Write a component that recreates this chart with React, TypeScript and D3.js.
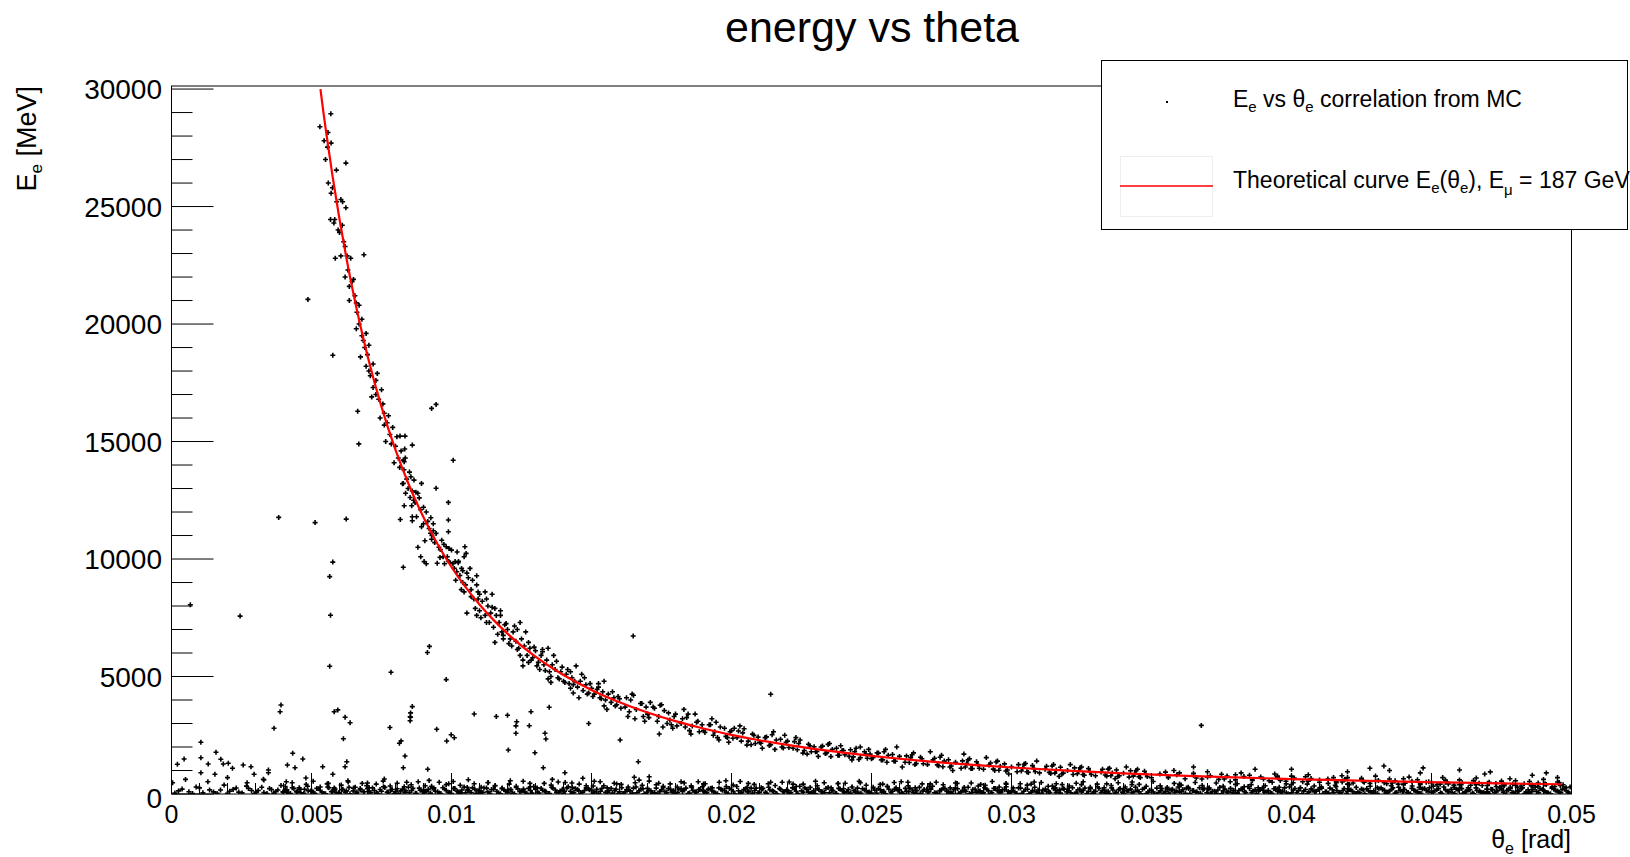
import React from "react";
import * as d3 from "d3";

const FONT = "'Liberation Sans', Arial, Helvetica, sans-serif";

// ---- axis ticks ----
const xTickValues = [0, 0.005, 0.01, 0.015, 0.02, 0.025, 0.03, 0.035, 0.04, 0.045, 0.05];
const xTickLabels = ["0", "0.005", "0.01", "0.015", "0.02", "0.025", "0.03", "0.035", "0.04", "0.045", "0.05"];
const yTickValues = [0, 5000, 10000, 15000, 20000, 25000, 30000];
const yTickLabels = ["0", "5000", "10000", "15000", "20000", "25000", "30000"];
const xDomain = [0, 0.05];
const yDomain = [0, 30130];

// ---- theoretical curve: [theta (mrad), E (MeV)] ----
const theoryCurve: [number, number][] = [
  [5.32, 30000], [5.4, 29246], [5.5, 28361], [5.75, 26307], [6.0, 24459], [6.25, 22788], [6.5, 21276],
  [6.75, 19903], [7.0, 18655], [7.5, 16475], [8.0, 14645], [8.5, 13097], [9.0, 11776], [9.5, 10642],
  [10, 9661], [11, 8061], [12, 6823], [13, 5847], [14, 5065], [15, 4428], [16, 3904], [17, 3467],
  [18, 3099], [19, 2786], [20, 2519], [21, 2287], [22, 2087], [23, 1911], [24, 1757], [25, 1620],
  [26, 1499], [27, 1391], [28, 1294], [29, 1207], [30, 1128], [32, 992], [34, 880], [36, 785],
  [38, 705], [40, 636], [42, 577], [44, 526], [46, 482], [48, 442], [49.65, 414],
];

// ---- MC points near the curve: [theta (mrad), E (MeV)] ----
const mcNearCurve: [number, number][] = [
  [5.3, 28400], [5.45, 27800], [5.57, 27530], [5.69, 28950], [5.59, 28150], [5.7, 27700], [6.23, 26850],
  [5.89, 26550], [5.7, 25570], [6.05, 25300], [6.11, 25200], [6.23, 24950], [5.68, 24450], [5.83, 24450],
  [5.8, 24300], [6.0, 23900], [6.15, 23500], [6.05, 22900], [6.27, 22900], [6.4, 22800], [5.85, 22800],
  [6.87, 22950], [6.2, 22000], [6.45, 21800], [6.55, 21200], [6.35, 21000], [6.62, 20500], [6.7, 20000],
  [6.8, 19500], [6.6, 19800], [6.9, 19000], [7.0, 18700], [6.75, 18600], [6.95, 18200], [7.05, 18000], [5.76, 18670],
  [7.1, 17800], [7.2, 17300], [7.3, 17600], [7.15, 16900], [7.4, 16800], [7.5, 17200], [7.6, 16200], [7.45, 16000],
  [7.7, 15800], [7.8, 15300], [7.65, 15000], [7.9, 15600], [8.0, 14800], [8.1, 14300], [7.95, 14100], [8.2, 14600],
  [8.16, 15230], [8.34, 15230], [8.6, 14850], [8.33, 14680], [8.28, 14210], [8.31, 14140],
  [8.3, 13800], [8.4, 13400], [8.25, 13200], [8.5, 13700], [8.66, 13360], [8.93, 13220], [8.28, 13220], [9.45, 13010],
  [8.36, 12800], [8.73, 12840], [8.52, 12620], [9.89, 12410], [8.31, 12270], [8.58, 12270], [8.6, 11800], [8.6, 11630],
  [9.26, 11760], [9.89, 11660], [8.93, 11375], [9.89, 11160], [9.35, 11200], [9.45, 11090], [9.05, 10780], [9.29, 10840],
  [9.73, 10620], [9.81, 10520], [9.91, 10450], [10.0, 10380], [10.48, 10520], [10.52, 10240], [9.02, 9890], [9.49, 9820],
  [9.59, 10070], [9.95, 9840], [10.13, 9890], [10.24, 9840], [10.19, 9460], [10.36, 9600], [10.66, 9600], [10.9, 9290],
  [8.6, 12900], [8.7, 12400], [8.8, 12800], [8.9, 12100], [8.75, 11800], [9.0, 11500], [9.1, 12000], [9.2, 11300],
  [9.3, 11000], [9.4, 10700], [9.6, 10400], [9.7, 10100], [9.75, 9800], [9.9, 9900], [10.1, 9600], [10.3, 9300],
  [10.15, 9100], [10.4, 9500], [10.5, 8900], [10.6, 9200], [10.45, 8600], [8.9, 10100], [9.1, 9800], [8.8, 10500],
  [10.7, 8700], [10.8, 8300], [10.9, 8900], [11.0, 7800], [11.1, 8200], [11.2, 7600], [11.3, 8000], [11.25, 7300],
  [11.4, 7700], [11.5, 7100], [11.6, 7600], [11.55, 7900], [11.7, 7300], [11.8, 6900], [11.9, 7200], [11.85, 6600],
  [12.0, 7000], [12.1, 6600], [12.2, 6900], [12.15, 6300], [12.3, 6500], [12.4, 6200], [12.5, 6600], [12.45, 5900],
  [12.6, 6300], [12.7, 5900], [12.8, 6200], [12.75, 5600], [12.9, 5800], [13.0, 6100], [13.1, 5600], [13.2, 5900],
  [13.15, 5300], [13.3, 5500], [13.4, 5700], [13.5, 5200], [13.6, 5500], [13.55, 5000], [13.7, 5300], [13.8, 4950],
  [13.9, 5200], [14.0, 4800], [14.1, 5100], [14.2, 4700], [14.3, 4950], [14.25, 4500], [14.4, 4800], [14.5, 4550],
  [14.6, 4800], [14.7, 4400], [14.8, 4650], [14.9, 4300], [15.0, 4500], [15.1, 4250], [15.2, 4450], [15.3, 4100],
  [15.4, 4350], [15.5, 4000], [15.6, 4250], [15.7, 3900], [15.8, 4100], [15.9, 3800], [16.0, 4050], [11.0, 8500],
  [11.45, 7950], [12.35, 7000], [13.25, 6150], [14.15, 5300], [15.25, 4700], [10.9, 7600], [11.65, 6800], [12.55, 5700],
  [13.45, 4900], [14.35, 4300], [15.45, 3750], [11.2, 8600], [11.75, 7800], [12.65, 6900], [13.65, 5900], [14.65, 5100],
  [16.2, 3700], [16.4, 4000], [16.6, 3600], [16.8, 3850], [17.0, 3400], [17.2, 3700], [17.4, 3300], [17.6, 3550],
  [17.8, 3150], [18.0, 3400], [18.2, 3000], [18.4, 3250], [18.6, 2900], [18.8, 3100], [19.0, 2700], [19.2, 2950],
  [19.4, 2650], [19.6, 2850], [19.8, 2450], [20.0, 2700], [20.2, 2400], [20.4, 2600], [20.6, 2250], [20.8, 2500],
  [21.0, 2200], [21.2, 2400], [21.4, 2100], [21.6, 2300], [21.8, 2000], [22.0, 2250], [22.2, 1950], [22.4, 2150],
  [22.6, 1850], [22.8, 2050], [23.0, 1800], [23.2, 2000], [23.4, 1750], [23.6, 1900], [23.8, 1650], [24.0, 1850],
  [24.2, 1600], [24.4, 1800], [24.6, 1550], [24.8, 1700], [25.0, 1500], [16.3, 3300], [17.1, 3900], [17.9, 2800],
  [18.7, 3400], [19.5, 2400], [20.3, 2900], [21.1, 1950], [21.9, 2500], [22.7, 1700], [23.5, 2150], [24.3, 1450],
  [24.9, 1900], [16.9, 3100], [18.3, 3600], [19.9, 2200], [21.5, 2650], [23.1, 1600], [24.6, 2000], [16.5, 4200],
  [17.5, 3800], [18.5, 2700], [19.3, 3200], [20.7, 2100], [22.3, 2400], [23.9, 2050], [17.7, 3000], [20.1, 2800],
  [25.2, 1750], [25.4, 1450], [25.6, 1650], [25.8, 1400], [26.0, 1600], [26.2, 1350], [26.4, 1550], [26.6, 1300],
  [26.8, 1500], [27.0, 1250], [27.2, 1450], [27.4, 1200], [27.6, 1400], [27.8, 1150], [28.0, 1350], [28.2, 1100],
  [28.4, 1300], [28.6, 1080], [28.8, 1250], [29.0, 1050], [29.2, 1230], [29.4, 1000], [29.6, 1180], [29.8, 980],
  [30.0, 1150], [30.2, 950], [30.4, 1120], [30.6, 920], [30.8, 1080], [31.0, 900], [31.2, 1050], [31.4, 870],
  [31.6, 1020], [31.8, 850], [32.0, 1000], [32.2, 830], [32.4, 980], [32.6, 800], [32.8, 950], [33.0, 780],
  [33.2, 930], [33.4, 760], [33.6, 900], [33.8, 740], [34.0, 880], [34.2, 720], [34.4, 860], [34.6, 700],
  [34.8, 840], [35.0, 690], [25.5, 1900], [26.5, 1750], [27.5, 1650], [28.5, 1500], [29.5, 1400], [30.5, 1300],
  [31.5, 1250], [32.5, 1150], [33.5, 1100], [34.5, 1050], [26.1, 1150], [27.9, 1000], [29.9, 850], [31.7, 750],
  [33.7, 650], [30.9, 1400], [28.3, 1700], [25.9, 2000], [27.1, 1800], [29.1, 1550], [32.1, 1250], [34.1, 1150],
  [35.3, 850], [35.6, 700], [35.9, 820], [36.2, 650], [36.5, 800], [36.8, 640], [37.1, 780], [37.4, 620],
  [37.7, 760], [38.0, 600], [38.3, 740], [38.6, 580], [38.9, 720], [39.2, 560], [39.5, 700], [39.8, 540],
  [40.1, 680], [40.4, 520], [40.7, 660], [41.0, 500], [41.3, 640], [41.6, 480], [41.9, 620], [42.2, 470],
  [42.5, 600], [42.8, 450], [43.1, 580], [43.4, 440], [43.7, 560], [44.0, 420], [44.3, 540], [44.6, 410],
  [44.9, 520], [45.2, 400], [45.5, 500], [45.8, 380], [46.1, 480], [46.4, 370], [46.7, 460], [47.0, 360],
  [47.3, 450], [47.6, 350], [47.9, 430], [48.2, 340], [48.5, 420], [48.8, 330], [49.1, 400], [49.4, 320],
  [49.7, 390], [49.95, 300], [35.8, 1000], [37.0, 950], [38.2, 900], [39.4, 850], [40.6, 820], [41.8, 780],
  [43.0, 760], [44.2, 720], [45.4, 700], [46.6, 680], [47.8, 650], [49.0, 620], [40.0, 1050], [42.0, 950],
  [44.6, 900], [46.9, 850], [48.6, 800], [36.5, 1150], [38.7, 1050], [43.5, 1000], [46.0, 1020], [49.5, 700],
  [43.3, 1190], [42.8, 1100], [44.7, 1110], [49.1, 900], [47.1, 940],
];

// ---- more MC points along the curve (second layer): [theta (mrad), E (MeV)] ----
const mcNearCurve2: [number, number][] = [
  [5.5, 27000], [5.6, 26000], [5.75, 25800], [5.9, 25200], [5.95, 24000], [6.1, 24200], [6.2, 23300], [6.3, 22300],
  [6.35, 21600], [6.5, 21900], [6.6, 20900], [6.7, 20800], [6.8, 20200], [6.85, 19300], [6.95, 19600], [7.05, 19100],
  [7.2, 18300], [7.3, 17000], [7.35, 17900], [7.55, 16600], [7.6, 15700], [7.75, 16100], [7.85, 14900], [8.05, 15200],
  [8.15, 13900], [8.35, 14300], [8.45, 13000], [8.55, 13500], [8.65, 12500], [8.85, 12600], [9.0, 12200], [9.15, 11600],
  [9.25, 11100], [9.35, 11500], [9.55, 10500], [9.65, 10800], [9.85, 10100], [10.05, 9800], [10.2, 10300], [10.4, 9000],
  [10.55, 9400], [10.7, 8400], [10.95, 8300],
  [10.25, 9900], [10.35, 8700], [10.75, 9100], [10.85, 7900], [11.25, 8300], [11.35, 7300], [11.75, 7600], [11.85, 6750],
  [12.25, 7150], [12.35, 6150], [12.75, 6450], [12.85, 5700], [13.25, 6050], [13.35, 5250], [13.75, 5650], [13.85, 4900],
  [14.25, 5200], [14.35, 4650], [14.75, 4950], [14.85, 4250], [15.25, 4550], [15.35, 4050], [15.75, 4350], [15.85, 3750],
  [16.25, 4100], [16.35, 3500], [16.75, 3850], [16.85, 3300], [17.25, 3650], [17.35, 3100], [17.75, 3450], [17.85, 2950],
  [18.25, 3200], [18.35, 2850], [18.75, 3050], [18.85, 2650], [19.25, 2950], [19.35, 2500], [19.75, 2800], [19.85, 2400],
  [20.25, 2680], [20.35, 2250], [20.75, 2550], [20.85, 2150], [21.25, 2430], [21.35, 2060], [21.75, 2330], [21.85, 1960],
  [22.25, 2230], [22.35, 1880], [22.75, 2120], [22.85, 1800], [23.25, 2040], [23.35, 1720], [23.75, 1950], [23.85, 1650],
  [24.25, 1880], [24.35, 1580], [24.75, 1800], [24.85, 1520], [25.25, 1740], [25.35, 1450], [25.75, 1680], [25.85, 1390],
  [26.25, 1620], [26.35, 1340], [26.75, 1560], [26.85, 1290], [27.25, 1520], [27.35, 1240], [27.75, 1460], [27.85, 1190],
  [28.25, 1410], [28.35, 1150], [28.75, 1370], [28.85, 1100], [29.25, 1320], [29.35, 1060], [29.75, 1280], [29.85, 1020],
  [30.25, 1250], [30.35, 980], [30.75, 1210], [30.85, 950], [31.25, 1180], [31.35, 920], [31.75, 1140], [31.85, 890],
  [32.25, 1110], [32.35, 860], [32.75, 1080], [32.85, 830], [33.25, 1050], [33.35, 810], [33.75, 1020], [33.85, 780],
  [34.25, 990], [34.35, 760], [34.75, 970], [34.85, 740], [35.5, 930], [35.6, 720], [36.5, 880], [36.6, 680],
  [37.5, 840], [37.6, 640], [38.5, 800], [38.6, 610], [39.5, 760], [39.6, 580], [40.5, 730], [40.6, 550],
  [41.5, 700], [41.6, 520], [42.5, 670], [42.6, 500], [43.5, 640], [43.6, 470], [44.5, 610], [44.6, 450],
  [45.5, 590], [45.6, 430], [46.5, 570], [46.6, 410], [47.5, 550], [47.6, 390], [48.5, 530], [48.6, 380],
  [49.5, 510], [49.6, 360], [36.0, 900], [37.0, 720], [38.0, 820], [39.0, 640], [40.0, 760], [41.0, 600],
  [42.0, 700], [43.0, 540], [44.0, 650], [45.0, 480], [46.0, 600], [47.0, 460], [48.0, 560], [49.0, 430],
];

// ---- wider spread around the curve (third layer): [theta (mrad), E (MeV)] ----
const mcNearCurve3: [number, number][] = [
  [10.45, 10100], [10.55, 7700], [11.45, 8500], [11.55, 6450], [12.45, 7300], [12.55, 5450], [13.45, 6200], [13.55, 4750],
  [14.45, 5450], [14.55, 4100], [15.45, 4800], [15.55, 3600], [16.45, 4250], [16.55, 3200], [17.45, 3780], [17.55, 2850],
  [18.45, 3400], [18.55, 2550], [19.45, 3050], [19.55, 2300], [20.45, 2780], [20.55, 2080], [21.45, 2520], [21.55, 1900],
  [22.45, 2300], [22.55, 1740], [23.45, 2110], [23.55, 1590], [24.45, 1950], [24.55, 1470], [25.45, 1800], [25.55, 1350],
  [26.45, 1670], [26.55, 1250], [27.45, 1560], [27.55, 1160], [28.45, 1450], [28.55, 1080], [29.45, 1360], [29.55, 1010],
  [30.45, 1270], [30.55, 950], [31.45, 1190], [31.55, 890], [32.45, 1120], [32.55, 830], [33.45, 1060], [33.55, 780],
  [34.45, 1000], [34.55, 740],
  [10.95, 8600], [11.05, 7500], [11.95, 7250], [12.05, 6400], [12.95, 6250], [13.05, 5450], [13.95, 5400], [14.05, 4750],
  [14.95, 4700], [15.05, 4150], [15.95, 4150], [16.05, 3650], [16.95, 3700], [17.05, 3250], [17.95, 3300], [18.05, 2900],
  [18.95, 2950], [19.05, 2620], [19.95, 2650], [20.05, 2370], [20.95, 2420], [21.05, 2160], [21.95, 2200], [22.05, 1980],
  [22.95, 2010], [23.05, 1810], [23.95, 1840], [24.05, 1670], [24.95, 1700], [25.05, 1540],
];

// ---- MC points in the low-energy band: [theta (mrad), E (MeV)] ----
const mcLowBand: [number, number][] = [
  [0.12, 40], [0.38, 210], [0.62, 95], [0.88, 300],
  [1.12, 55], [1.36, 175], [1.63, 25], [1.88, 380],
  [2.08, 120], [2.31, 255], [2.52, 45], [2.68, 335], [2.86, 150],
  [3.04, 80], [3.22, 290], [3.41, 20], [3.57, 190], [3.73, 110], [3.91, 360],
  [4.04, 140], [4.18, 40], [4.31, 270], [4.46, 90], [4.59, 200], [4.73, 30], [4.86, 330], [4.97, 120],
  [5.06, 60], [5.19, 240], [5.31, 150], [5.44, 20], [5.58, 300], [5.71, 100], [5.84, 210], [5.96, 50],
  [6.08, 180], [6.21, 70], [6.34, 280], [6.49, 130], [6.61, 30], [6.74, 230], [6.86, 90], [6.97, 350],
  [7.05, 110], [7.18, 260], [7.32, 40], [7.45, 190], [7.57, 310], [7.7, 80], [7.83, 170], [7.95, 20],
  [8.06, 220], [8.19, 130], [8.33, 60], [8.46, 290], [8.58, 150], [8.71, 30], [8.85, 250], [8.96, 100],
  [9.04, 50], [9.17, 200], [9.29, 330], [9.42, 120], [9.56, 40], [9.69, 270], [9.81, 160], [9.94, 70],
  [10.07, 240], [10.2, 110], [10.32, 30], [10.45, 300], [10.58, 180], [10.7, 60], [10.83, 210], [10.95, 140],
  [11.03, 20], [11.16, 260], [11.3, 90], [11.43, 190], [11.55, 340], [11.68, 50], [11.8, 230], [11.93, 120],
  [12.05, 170], [12.18, 40], [12.31, 280], [12.44, 100], [12.57, 210], [12.69, 30], [12.82, 150], [12.94, 320],
  [13.07, 80], [13.2, 240], [13.33, 130], [13.46, 20], [13.58, 290], [13.71, 170], [13.84, 60], [13.96, 200],
  [14.04, 110], [14.17, 310], [14.3, 40], [14.43, 220], [14.55, 140], [14.68, 70], [14.81, 260], [14.93, 180],
  [15.06, 30], [15.19, 200], [15.32, 120], [15.44, 350], [15.57, 60], [15.7, 240], [15.83, 150], [15.95, 20],
  [16.08, 270], [16.21, 90], [16.33, 190], [16.46, 40], [16.59, 300], [16.71, 130], [16.84, 220], [16.97, 70],
  [17.05, 160], [17.18, 30], [17.31, 250], [17.44, 110], [17.56, 330], [17.69, 60], [17.82, 200], [17.94, 140],
  [18.07, 50], [18.2, 230], [18.32, 170], [18.45, 20], [18.58, 280], [18.7, 100], [18.83, 190], [18.96, 310],
  [19.04, 80], [19.17, 210], [19.3, 130], [19.43, 40], [19.55, 260], [19.68, 160], [19.81, 60], [19.93, 240],
  [20.06, 120], [20.19, 320], [20.32, 30], [20.44, 190], [20.57, 90], [20.7, 250], [20.83, 150], [20.95, 50],
  [21.08, 200], [21.21, 70], [21.33, 290], [21.46, 140], [21.59, 20], [21.71, 230], [21.84, 110], [21.97, 180],
  [22.05, 40], [22.18, 260], [22.31, 120], [22.44, 330], [22.56, 80], [22.69, 200], [22.82, 30], [22.94, 150],
  [23.07, 230], [23.2, 100], [23.32, 60], [23.45, 280], [23.58, 170], [23.7, 20], [23.83, 240], [23.96, 130],
  [24.04, 70], [24.17, 190], [24.3, 300], [24.43, 110], [24.55, 40], [24.68, 220], [24.81, 150], [24.93, 90],
  [25.06, 260], [25.19, 30], [25.32, 180], [25.44, 120], [25.57, 310], [25.7, 60], [25.83, 210], [25.95, 140],
  [26.08, 50], [26.21, 240], [26.33, 100], [26.46, 170], [26.59, 20], [26.71, 280], [26.84, 130], [26.97, 200],
  [27.05, 90], [27.18, 330], [27.31, 40], [27.44, 150], [27.56, 250], [27.69, 110], [27.82, 30], [27.94, 190],
  [28.07, 220], [28.2, 80], [28.32, 160], [28.45, 290], [28.58, 50], [28.7, 200], [28.83, 120], [28.96, 20],
  [29.04, 270], [29.17, 140], [29.3, 60], [29.43, 230], [29.55, 100], [29.68, 180], [29.81, 310], [29.93, 40],
  [30.06, 150], [30.19, 20], [30.32, 250], [30.44, 120], [30.57, 200], [30.7, 70], [30.83, 290], [30.95, 170],
  [31.08, 30], [31.21, 210], [31.33, 110], [31.46, 340], [31.59, 60], [31.71, 180], [31.84, 240], [31.97, 90],
  [32.05, 130], [32.18, 270], [32.31, 40], [32.44, 200], [32.56, 150], [32.69, 20], [32.82, 230], [32.94, 100],
  [33.07, 310], [33.2, 60], [33.32, 170], [33.45, 120], [33.58, 260], [33.7, 30], [33.83, 190], [33.96, 80],
  [34.04, 220], [34.17, 140], [34.3, 50], [34.43, 290], [34.55, 100], [34.68, 200], [34.81, 20], [34.93, 160],
  [35.06, 90], [35.19, 250], [35.32, 130], [35.44, 40], [35.57, 210], [35.7, 170], [35.83, 60], [35.95, 300],
  [36.08, 110], [36.21, 30], [36.33, 230], [36.46, 150], [36.59, 80], [36.71, 270], [36.84, 190], [36.97, 50],
  [37.05, 200], [37.18, 120], [37.31, 20], [37.44, 280], [37.56, 140], [37.69, 70], [37.82, 240], [37.94, 160],
  [38.07, 40], [38.2, 210], [38.32, 100], [38.45, 320], [38.58, 60], [38.7, 180], [38.83, 130], [38.96, 260],
  [39.04, 80], [39.17, 150], [39.3, 30], [39.43, 240], [39.55, 190], [39.68, 110], [39.81, 50], [39.93, 300],
  [40.06, 170], [40.19, 60], [40.32, 270], [40.44, 130], [40.57, 20], [40.7, 220], [40.83, 90], [40.95, 190],
  [41.08, 250], [41.21, 100], [41.33, 40], [41.46, 180], [41.59, 310], [41.71, 70], [41.84, 150], [41.97, 30],
  [42.05, 210], [42.18, 120], [42.31, 280], [42.44, 50], [42.56, 170], [42.69, 230], [42.82, 90], [42.94, 140],
  [43.07, 20], [43.2, 260], [43.32, 160], [43.45, 80], [43.58, 200], [43.7, 40], [43.83, 290], [43.96, 110],
  [44.04, 190], [44.17, 60], [44.3, 240], [44.43, 130], [44.55, 30], [44.68, 210], [44.81, 150], [44.93, 270],
  [45.06, 90], [45.19, 180], [45.32, 50], [45.44, 300], [45.57, 120], [45.7, 200], [45.83, 20], [45.95, 160],
  [46.08, 230], [46.21, 100], [46.33, 170], [46.46, 40], [46.59, 260], [46.71, 140], [46.84, 70], [46.97, 210],
  [47.05, 30], [47.18, 190], [47.31, 120], [47.44, 280], [47.56, 80], [47.69, 160], [47.82, 240], [47.94, 50],
  [48.07, 140], [48.2, 220], [48.32, 20], [48.45, 180], [48.58, 100], [48.7, 290], [48.83, 60], [48.96, 200],
  [49.04, 120], [49.17, 40], [49.3, 250], [49.43, 160], [49.55, 80], [49.68, 210], [49.81, 130], [49.93, 30],
];

// ---- second layer of the low-energy band: [theta (mrad), E (MeV)] ----
const mcLowBand2: [number, number][] = [
  [0.25, 130], [0.75, 20], [1.0, 260], [1.5, 90], [1.75, 170],
  [2.0, 30], [2.2, 190], [2.4, 80], [2.75, 240], [2.95, 10],
  [3.1, 150], [3.3, 60], [3.5, 230], [3.65, 40], [3.8, 170], [3.98, 90],
  [4.0, 70], [4.12, 180], [4.25, 20], [4.37, 240], [4.5, 110], [4.62, 50], [4.75, 200], [4.88, 140],
  [5.0, 160], [5.12, 30], [5.25, 220], [5.37, 90], [5.5, 10], [5.62, 270], [5.75, 120], [5.88, 60],
  [6.0, 40], [6.12, 200], [6.25, 130], [6.37, 10], [6.5, 250], [6.62, 80], [6.75, 170], [6.88, 100],
  [7.0, 230], [7.12, 60], [7.25, 150], [7.37, 20], [7.5, 120], [7.62, 280], [7.75, 50], [7.88, 190],
  [8.0, 90], [8.12, 10], [8.25, 210], [8.37, 140], [8.5, 60], [8.62, 240], [8.75, 20], [8.88, 160],
  [9.0, 180], [9.12, 120], [9.25, 40], [9.37, 260], [9.5, 100], [9.62, 20], [9.75, 210], [9.88, 70],
  [10.0, 20], [10.12, 230], [10.25, 90], [10.37, 170], [10.5, 50], [10.62, 140], [10.75, 260], [10.88, 30],
  [11.0, 140], [11.12, 70], [11.25, 250], [11.37, 30], [11.5, 200], [11.62, 110], [11.75, 10], [11.88, 180],
  [12.0, 60], [12.12, 190], [12.25, 10], [12.37, 220], [12.5, 130], [12.62, 80], [12.75, 240], [12.88, 40],
  [13.0, 210], [13.12, 40], [13.25, 160], [13.37, 100], [13.5, 20], [13.62, 250], [13.75, 70], [13.88, 130],
  [14.0, 30], [14.12, 260], [14.25, 120], [14.37, 60], [14.5, 190], [14.62, 10], [14.75, 150], [14.88, 220],
  [15.0, 170], [15.12, 90], [15.25, 20], [15.37, 240], [15.5, 70], [15.62, 140], [15.75, 40], [15.88, 200],
  [16.0, 100], [16.12, 20], [16.25, 180], [16.37, 130], [16.5, 250], [16.62, 50], [16.75, 210], [16.88, 10],
  [17.0, 240], [17.12, 140], [17.25, 60], [17.37, 10], [17.5, 170], [17.62, 100], [17.75, 230], [17.88, 80],
  [18.0, 20], [18.12, 200], [18.25, 110], [18.37, 250], [18.5, 40], [18.62, 150], [18.75, 70], [18.88, 180],
  [19.0, 130], [19.12, 50], [19.25, 230], [19.37, 90], [19.5, 10], [19.62, 200], [19.75, 160], [19.88, 30],
  [20.0, 190], [20.12, 10], [20.25, 140], [20.37, 60], [20.5, 220], [20.62, 120], [20.75, 40], [20.88, 250],
  [21.0, 70], [21.12, 240], [21.25, 30], [21.37, 170], [21.5, 110], [21.62, 10], [21.75, 200], [21.88, 90],
  [22.0, 150], [22.12, 60], [22.25, 210], [22.37, 20], [22.5, 130], [22.62, 260], [22.75, 80], [22.88, 40],
  [23.0, 10], [23.12, 180], [23.25, 100], [23.37, 230], [23.5, 50], [23.62, 150], [23.75, 20], [23.88, 210],
  [24.0, 220], [24.12, 90], [24.25, 40], [24.37, 140], [24.5, 250], [24.62, 30], [24.75, 170], [24.88, 60],
  [25.0, 40], [25.12, 160], [25.25, 230], [25.37, 80], [25.5, 10], [25.62, 200], [25.75, 120], [25.88, 270],
  [26.0, 180], [26.12, 20], [26.25, 110], [26.37, 250], [26.5, 60], [26.62, 140], [26.75, 30], [26.88, 190],
  [27.0, 90], [27.12, 210], [27.25, 50], [27.37, 10], [27.5, 170], [27.62, 230], [27.75, 100], [27.88, 40],
  [28.0, 250], [28.12, 30], [28.25, 150], [28.37, 120], [28.5, 20], [28.62, 190], [28.75, 70], [28.88, 130],
  [29.0, 60], [29.12, 200], [29.25, 10], [29.37, 240], [29.5, 140], [29.62, 50], [29.75, 180], [29.88, 110],
  [30.0, 130], [30.12, 80], [30.25, 260], [30.37, 30], [30.5, 200], [30.62, 10], [30.75, 150], [30.88, 90],
  [31.0, 20], [31.12, 170], [31.25, 110], [31.37, 60], [31.5, 230], [31.62, 140], [31.75, 40], [31.88, 210],
  [32.0, 200], [32.12, 50], [32.25, 10], [32.37, 180], [32.5, 90], [32.62, 250], [32.75, 120], [32.88, 30],
  [33.0, 110], [33.12, 240], [33.25, 150], [33.37, 40], [33.5, 20], [33.62, 170], [33.75, 60], [33.88, 230],
  [34.0, 30], [34.12, 130], [34.25, 210], [34.37, 90], [34.5, 160], [34.62, 10], [34.75, 250], [34.88, 70],
  [35.0, 170], [35.12, 10], [35.25, 60], [35.37, 230], [35.5, 120], [35.62, 40], [35.75, 200], [35.88, 140],
  [36.0, 80], [36.12, 190], [36.25, 250], [36.37, 20], [36.5, 150], [36.62, 100], [36.75, 30], [36.88, 220],
  [37.0, 240], [37.12, 40], [37.25, 120], [37.37, 170], [37.5, 10], [37.62, 210], [37.75, 90], [37.88, 50],
  [38.0, 10], [38.12, 150], [38.25, 200], [38.37, 60], [38.5, 240], [38.62, 130], [38.75, 20], [38.88, 180],
  [39.0, 160], [39.12, 90], [39.25, 30], [39.37, 220], [39.5, 110], [39.62, 50], [39.75, 260], [39.88, 10],
  [40.0, 50], [40.12, 230], [40.25, 140], [40.37, 10], [40.5, 190], [40.62, 80], [40.75, 170], [40.88, 120],
  [41.0, 200], [41.12, 20], [41.25, 100], [41.37, 250], [41.5, 60], [41.62, 150], [41.75, 40], [41.88, 230],
  [42.0, 120], [42.12, 170], [42.25, 30], [42.37, 90], [42.5, 210], [42.62, 10], [42.75, 130], [42.88, 60],
  [43.0, 30], [43.12, 220], [43.25, 180], [43.37, 40], [43.5, 130], [43.62, 260], [43.75, 70], [43.88, 150],
  [44.0, 190], [44.12, 60], [44.25, 10], [44.37, 160], [44.5, 100], [44.62, 30], [44.75, 240], [44.88, 120],
  [45.0, 70], [45.12, 140], [45.25, 230], [45.37, 20], [45.5, 170], [45.62, 90], [45.75, 50], [45.88, 210],
  [46.0, 250], [46.12, 30], [46.25, 120], [46.37, 190], [46.5, 10], [46.62, 150], [46.75, 80], [46.88, 40],
  [47.0, 100], [47.12, 200], [47.25, 50], [47.37, 140], [47.5, 230], [47.62, 20], [47.75, 170], [47.88, 60],
  [48.0, 20], [48.12, 120], [48.25, 260], [48.37, 80], [48.5, 40], [48.62, 190], [48.75, 110], [48.88, 230],
  [49.0, 160], [49.12, 60], [49.25, 10], [49.37, 200], [49.5, 130], [49.62, 50], [49.75, 240], [49.88, 90],
];

// ---- upper edge of the low-energy band: [theta (mrad), E (MeV)] ----
const mcLowBand3: [number, number][] = [
  [4.06, 320], [4.31, 480], [4.56, 270], [4.81, 410], [5.06, 540], [5.31, 300], [5.56, 430], [5.81, 260],
  [6.06, 380], [6.31, 510], [6.56, 290], [6.81, 450], [7.06, 270], [7.31, 420], [7.56, 550], [7.81, 340],
  [8.06, 460], [8.31, 310], [8.56, 390], [8.81, 520], [9.06, 350], [9.31, 260], [9.56, 500], [9.81, 400],
  [10.06, 530], [10.31, 370], [10.56, 280], [10.81, 440], [11.06, 290], [11.31, 490], [11.56, 360], [11.81, 250],
  [12.06, 420], [12.31, 330], [12.56, 540], [12.81, 300], [13.06, 260], [13.31, 450], [13.56, 380], [13.81, 510],
  [14.06, 490], [14.31, 280], [14.56, 420], [14.81, 350], [15.06, 340], [15.31, 520], [15.56, 260], [15.81, 460],
  [16.06, 410], [16.31, 300], [16.56, 480], [16.81, 370], [17.06, 550], [17.31, 390], [17.56, 270], [17.81, 430],
  [18.06, 300], [18.31, 470], [18.56, 350], [18.81, 520], [19.06, 440], [19.31, 260], [19.56, 500], [19.81, 320],
  [20.06, 380], [20.31, 530], [20.56, 290], [20.81, 410], [21.06, 270], [21.31, 440], [21.56, 360], [21.81, 500],
  [22.06, 510], [22.31, 320], [22.56, 420], [22.81, 280], [23.06, 350], [23.31, 480], [23.56, 260], [23.81, 450],
  [24.06, 460], [24.31, 300], [24.56, 540], [24.81, 370], [25.06, 290], [25.31, 410], [25.56, 330], [25.81, 490],
  [26.06, 520], [26.31, 350], [26.56, 270], [26.81, 430], [27.06, 320], [27.31, 500], [27.56, 390], [27.81, 260],
  [28.06, 450], [28.31, 280], [28.56, 470], [28.81, 340], [29.06, 370], [29.31, 530], [29.56, 300], [29.81, 420],
  [30.06, 260], [30.31, 440], [30.56, 380], [30.81, 510], [31.06, 490], [31.31, 330], [31.56, 270], [31.81, 400],
  [32.06, 340], [32.31, 460], [32.56, 520], [32.81, 290], [33.06, 420], [33.31, 270], [33.56, 360], [33.81, 480],
  [34.06, 300], [34.31, 510], [34.56, 410], [34.81, 330], [35.06, 530], [35.31, 350], [35.56, 280], [35.81, 450],
  [36.06, 380], [36.31, 290], [36.56, 490], [36.81, 360], [37.06, 270], [37.31, 470], [37.56, 330], [37.81, 520],
  [38.06, 440], [38.31, 310], [38.56, 400], [38.81, 270], [39.06, 350], [39.31, 500], [39.56, 290], [39.81, 430],
  [40.06, 480], [40.31, 260], [40.56, 420], [40.81, 340], [41.06, 310], [41.31, 450], [41.56, 370], [41.81, 510],
  [42.06, 400], [42.31, 290], [42.56, 530], [42.81, 330], [43.06, 270], [43.31, 480], [43.56, 350], [43.81, 420],
  [44.06, 460], [44.31, 340], [44.56, 280], [44.81, 500], [45.06, 330], [45.31, 420], [45.56, 510], [45.81, 290],
  [46.06, 390], [46.31, 270], [46.56, 450], [46.81, 360], [47.06, 500], [47.31, 320], [47.56, 380], [47.81, 280],
  [48.06, 290], [48.31, 440], [48.56, 340], [48.81, 470], [49.06, 420], [49.31, 310], [49.56, 490], [49.81, 270],
];

// ---- MC points just above the low band: [theta (mrad), E (MeV)] ----
const mcLowMid: [number, number][] = [
  [0.5, 620], [1.3, 520], [2.0, 700], [2.7, 480], [3.3, 600], [4.1, 520], [4.8, 680], [5.6, 450], [6.3, 560],
  [7.0, 470], [7.6, 640], [8.4, 500], [9.2, 580], [9.9, 440], [10.6, 610], [11.3, 480], [12.1, 560], [12.8, 450],
  [13.6, 620], [14.3, 470], [15.1, 540], [15.9, 430], [16.7, 590], [17.4, 460], [18.2, 520], [19.0, 430],
  [19.8, 560], [20.6, 450], [21.4, 500], [22.2, 420], [23.0, 540], [23.8, 440], [24.6, 480], [25.4, 420],
  [26.3, 500], [27.1, 430], [28.0, 470], [28.9, 410], [29.8, 450], [30.7, 420], [31.6, 440], [32.5, 400],
  [33.4, 430], [34.3, 400], [36.0, 420], [38.0, 410], [40.0, 400], [42.0, 420], [44.0, 390], [46.0, 400], [48.0, 380],
];

// ---- MC stragglers away from the curve: [theta (mrad), E (MeV)] ----
const mcStragglers: [number, number][] = [
  [0.04, 480], [0.21, 1264], [0.45, 1490], [1.05, 2200], [1.05, 1545], [1.05, 906], [1.31, 1276], [1.59, 1774],
  [1.55, 838], [1.76, 1476], [1.85, 1276], [2.03, 1306], [2.18, 1093], [2.56, 1234], [2.84, 1162], [2.95, 838],
  [3.28, 626], [3.46, 1021], [3.46, 906], [3.66, 2796], [3.88, 3502], [3.91, 3787], [4.14, 1234], [4.33, 1732],
  [4.41, 1119], [4.69, 1489], [5.4, 1162], [5.76, 838], [5.81, 3502], [6.14, 2353], [6.2, 1162], [6.26, 1374],
  [6.38, 3034], [8.14, 2157], [8.34, 1617], [8.28, 1119], [8.52, 3289], [8.52, 3119], [9.15, 1051], [9.47, 2753],
  [9.83, 2255], [10.1, 2396], [10.81, 3404], [12.03, 1872], [12.3, 2583], [12.33, 3077], [12.78, 2906], [12.84, 3502],
  [12.98, 1757], [13.28, 1119], [13.34, 2583], [13.37, 2340], [13.49, 3689], [14.05, 906], [14.69, 668], [16.02, 2298],
  [16.67, 1374], [16.53, 711], [17.06, 736], [17.42, 2553], [9.99, 2520], [8.2, 2260], [7.8, 2830],
  [0.67, 8050], [2.45, 7570], [3.83, 11770], [5.13, 11550], [5.76, 9870], [5.65, 9250], [5.68, 7610], [5.65, 5440],
  [5.94, 3580], [6.2, 3270], [7.84, 5180], [9.21, 6280], [9.14, 6020], [8.54, 3270], [8.54, 3450], [8.6, 3720],
  [9.81, 4870], [6.24, 11700], [4.87, 21050], [6.65, 16290], [6.69, 14900], [9.29, 16410], [9.45, 16580],
  [10.06, 14200], [16.49, 6726], [21.4, 4248], [36.78, 2920], [8.17, 11680], [8.28, 9650], [11.6, 3300],
  [12.0, 3350], [12.3, 2900], [14.9, 3000],
];

// ---- layout ----
const W = 1630;
const H = 857;
const frame = { left: 171.5, right: 1571.5, top: 86, bottom: 794 };

export default function App() {
  const x = d3.scaleLinear().domain(xDomain).range([frame.left, frame.right]);
  const y = d3.scaleLinear().domain(yDomain).range([frame.bottom, frame.top]);

  const px = (t: number) => x(t / 1000);

  const allPoints = [
    ...mcLowBand, ...mcLowBand2, ...mcLowBand3, ...mcLowMid, ...mcStragglers,
    ...mcNearCurve, ...mcNearCurve2, ...mcNearCurve3,
  ];
  const a = 2.5;
  let markerPath = "";
  for (const [t, e] of allPoints) {
    const cx = px(t);
    const cy = y(e);
    markerPath += `M${(cx - a).toFixed(1)},${cy.toFixed(1)}h${2 * a}M${cx.toFixed(1)},${(cy - a).toFixed(1)}v${2 * a}`;
  }

  const line = d3
    .line<[number, number]>()
    .x((d) => px(d[0]))
    .y((d) => y(d[1]))
    .curve(d3.curveMonotoneX);
  const curvePath = line(theoryCurve) || "";

  const xMinor = d3.range(0, 51).map((i) => i / 1000);
  const yMinor = d3.range(0, 31).map((i) => i * 1000);

  return (
    <svg
      width={W}
      height={H}
      viewBox={`0 0 ${W} ${H}`}
      style={{ position: "absolute", left: 0, top: 0, background: "#fff", fontFamily: FONT }}
    >
      <rect x={0} y={0} width={W} height={H} fill="#fff" />
      <defs>
        <clipPath id="frameClip">
          <rect x={frame.left} y={frame.top} width={frame.right - frame.left} height={frame.bottom - frame.top} />
        </clipPath>
      </defs>

      {/* title */}
      <text x={872} y={42} fontSize={43} textAnchor="middle" fill="#000">
        energy vs theta
      </text>

      {/* data */}
      <g clipPath="url(#frameClip)">
        <path d={markerPath} stroke="#000" strokeWidth={1.6} fill="none" />
        <path d={curvePath} stroke="#ff0000" strokeWidth={2.2} fill="none" />
      </g>

      {/* frame */}
      <rect
        x={frame.left}
        y={frame.top}
        width={frame.right - frame.left}
        height={frame.bottom - frame.top}
        fill="none"
        stroke="#000"
        strokeWidth={1}
      />

      {/* y ticks */}
      {yMinor.map((v) => {
        const major = v % 5000 === 0;
        return (
          <line
            key={"ym" + v}
            x1={frame.left}
            x2={frame.left + (major ? 42 : 21)}
            y1={y(v)}
            y2={y(v)}
            stroke="#000"
            strokeWidth={1}
          />
        );
      })}
      {yTickValues.map((v, i) => (
        <text
          key={"yl" + v}
          x={162}
          y={y(v) + (v === 0 ? 14 : 10)}
          fontSize={28}
          textAnchor="end"
          fill="#000"
        >
          {yTickLabels[i]}
        </text>
      ))}

      {/* x ticks */}
      {xMinor.map((v, i) => {
        const major = i % 5 === 0;
        return (
          <line
            key={"xm" + i}
            x1={x(v)}
            x2={x(v)}
            y1={frame.bottom}
            y2={frame.bottom - (major ? 21 : 11)}
            stroke="#000"
            strokeWidth={1}
          />
        );
      })}
      {xTickValues.map((v, i) => (
        <text key={"xl" + i} x={x(v)} y={823} fontSize={25} textAnchor="middle" fill="#000">
          {xTickLabels[i]}
        </text>
      ))}

      {/* axis titles */}
      <text x={1571} y={848} fontSize={25} textAnchor="end" fill="#000">
        θ<tspan fontSize={16} dy={6}>e</tspan>
        <tspan dy={-6}> [rad]</tspan>
      </text>
      <text transform="translate(36,86) rotate(-90)" fontSize={27} textAnchor="end" fill="#000">
        E<tspan fontSize={17} dy={6}>e</tspan>
        <tspan dy={-6}> [MeV]</tspan>
      </text>

      {/* legend */}
      <g>
        <rect x={1101.5} y={60.5} width={526} height={169} fill="#fff" stroke="#000" strokeWidth={1} />
        <rect x={1166} y={101} width={2} height={2} fill="#000" />
        <text x={1233} y={107} fontSize={23} fill="#000">
          E<tspan fontSize={15} dy={5}>e</tspan>
          <tspan dy={-5}> vs θ</tspan>
          <tspan fontSize={15} dy={5}>e</tspan>
          <tspan dy={-5}> correlation from MC</tspan>
        </text>
        <rect x={1120.5} y={156.5} width={92} height={60} fill="none" stroke="#eeeeee" strokeWidth={1} />
        <line x1={1120} x2={1213} y1={186} y2={186} stroke="#ff0000" strokeWidth={1.5} />
        <text x={1233} y={188} fontSize={23} fill="#000">
          Theoretical curve E<tspan fontSize={15} dy={5}>e</tspan>
          <tspan dy={-5}>(θ</tspan>
          <tspan fontSize={15} dy={5}>e</tspan>
          <tspan dy={-5}>), E</tspan>
          <tspan fontSize={15} dy={7}>μ</tspan>
          <tspan dy={-7}> = 187 GeV</tspan>
        </text>
      </g>
    </svg>
  );
}
